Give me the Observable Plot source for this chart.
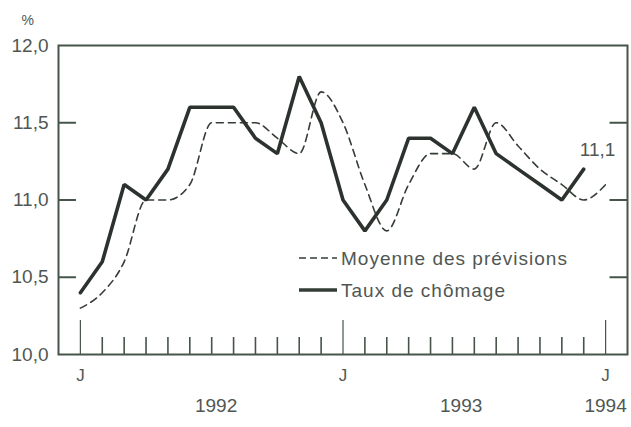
<!DOCTYPE html>
<html>
<head>
<meta charset="utf-8">
<script src="https://cdn.jsdelivr.net/npm/d3@7"></script>
<script src="https://cdn.jsdelivr.net/npm/@observablehq/plot@0.6"></script>
<style>
  html, body { margin: 0; padding: 0; background: #ffffff; }
  #wrap { position: relative; width: 631px; height: 427px; overflow: hidden; }
  #legend { position: absolute; left: 0; top: 0; pointer-events: none; }
  svg text { font-family: "Liberation Sans", Arial, sans-serif; }
</style>
</head>
<body>
<div id="wrap"></div>
<script>
// Month index 0 = January 1992
const unemployment = [10.4, 10.6, 11.1, 11.0, 11.2, 11.6, 11.6, 11.6, 11.4, 11.3, 11.8, 11.5,
                      11.0, 10.8, 11.0, 11.4, 11.4, 11.3, 11.6, 11.3, 11.2, 11.1, 11.0, 11.2];
const forecast = [10.3, 10.4, 10.6, 11.0, 11.0, 11.1, 11.5, 11.5, 11.5, 11.4, 11.3, 11.7,
                  11.5, 11.1, 10.8, 11.1, 11.3, 11.3, 11.2, 11.5, 11.35, 11.2, 11.1, 11.0, 11.1];
const yTicks = [10.0, 10.5, 11.0, 11.5, 12.0];
const janTicks = [0, 12, 24];
const janLabels = ["J", "J", "J"];
const yearLabels = ["1992", "1993", "1994"];
const yearPos = [6.2, 17.4, 24];
const seriesNames = ["Moyenne des prévisions", "Taux de chômage"];
const endLabel = "11,1";

const unempData = unemployment.map((v, i) => ({x: i, y: v}));
const fcData = forecast.map((v, i) => ({x: i, y: v}));
const allMonths = d3.range(forecast.length);
const minorMonths = allMonths.filter(m => !janTicks.includes(m));
const innerY = yTicks.filter(v => v > 10 && v < 12);
const ink = "#353d37";
const frameCol = "#46544a";
const textCol = "#505753";
const fmt = v => v.toFixed(1).replace(".", ",");

const chart = Plot.plot({
  width: 631,
  height: 427,
  marginLeft: 58,
  marginRight: 4,
  marginTop: 45,
  marginBottom: 73,
  style: {background: "#ffffff", fontFamily: "Liberation Sans, Arial, sans-serif"},
  x: {domain: [-1, 25], axis: null},
  y: {domain: [10, 12], axis: null},
  marks: [
    Plot.frame({stroke: frameCol, strokeWidth: 2}),
    // y tick marks (inner, left & right)
    Plot.ruleY(innerY, {x1: -1, x2: -0.18, stroke: frameCol, strokeWidth: 2}),
    Plot.ruleY(innerY, {x1: 24.2, x2: 25, stroke: frameCol, strokeWidth: 2}),
    // x tick marks
    Plot.ruleX(minorMonths, {y1: 10, y2: 10.11, stroke: frameCol, strokeWidth: 1.6}),
    Plot.ruleX(janTicks, {y1: 10, y2: 10.22, stroke: frameCol, strokeWidth: 1.2}),
    // y labels
    Plot.text(yTicks, {y: d => d, text: fmt, frameAnchor: "left", dx: -10, textAnchor: "end",
      fontSize: 19, fill: textCol, style: {letterSpacing: "1.3px"}}),
    // x labels
    Plot.text(janTicks, {x: d => d, text: (d, i) => janLabels[i], frameAnchor: "bottom", dy: 26,
      fontSize: 17, fill: textCol}),
    Plot.text(yearPos, {x: d => d, text: (d, i) => yearLabels[i], frameAnchor: "bottom", dy: 57,
      fontSize: 19, fill: textCol, style: {letterSpacing: "1px"}}),
    // % label
    Plot.text(["%"], {frameAnchor: "top-left", dx: -37, dy: -30, text: d => d, fontSize: 14, fill: textCol}),
    // series
    Plot.line(fcData, {x: "x", y: "y", stroke: ink, strokeWidth: 1.6, strokeDasharray: "7,5",
      curve: "monotone-x"}),
    Plot.line(unempData, {x: "x", y: "y", stroke: "#2c332e", strokeWidth: 3.6, strokeLinejoin: "miter"}),
    // end label
    Plot.text([fcData[fcData.length - 1]], {x: "x", y: "y", text: () => endLabel, dx: -8, dy: -35,
      fontSize: 19, fill: textCol, style: {letterSpacing: "1.2px"}})
  ]
});
document.getElementById("wrap").appendChild(chart);

// legend overlay
const ns = "http://www.w3.org/2000/svg";
const lg = document.createElementNS(ns, "svg");
lg.setAttribute("id", "legend");
lg.setAttribute("width", 631);
lg.setAttribute("height", 427);
const items = [
  {name: seriesNames[0], dash: "7,4", w: 1.6, y: 258},
  {name: seriesNames[1], dash: null, w: 3.6, y: 290}
];
for (const it of items) {
  const l = document.createElementNS(ns, "line");
  l.setAttribute("x1", 299); l.setAttribute("x2", 337);
  l.setAttribute("y1", it.y); l.setAttribute("y2", it.y);
  l.setAttribute("stroke", ink); l.setAttribute("stroke-width", it.w);
  if (it.dash) l.setAttribute("stroke-dasharray", it.dash);
  lg.appendChild(l);
  const t = document.createElementNS(ns, "text");
  t.setAttribute("x", 341); t.setAttribute("y", it.y);
  t.setAttribute("dy", "0.35em");
  t.setAttribute("font-size", 19);
  t.setAttribute("fill", textCol);
  t.setAttribute("letter-spacing", "1");
  t.textContent = it.name;
  lg.appendChild(t);
}
document.getElementById("wrap").appendChild(lg);
</script>
</body>
</html>
